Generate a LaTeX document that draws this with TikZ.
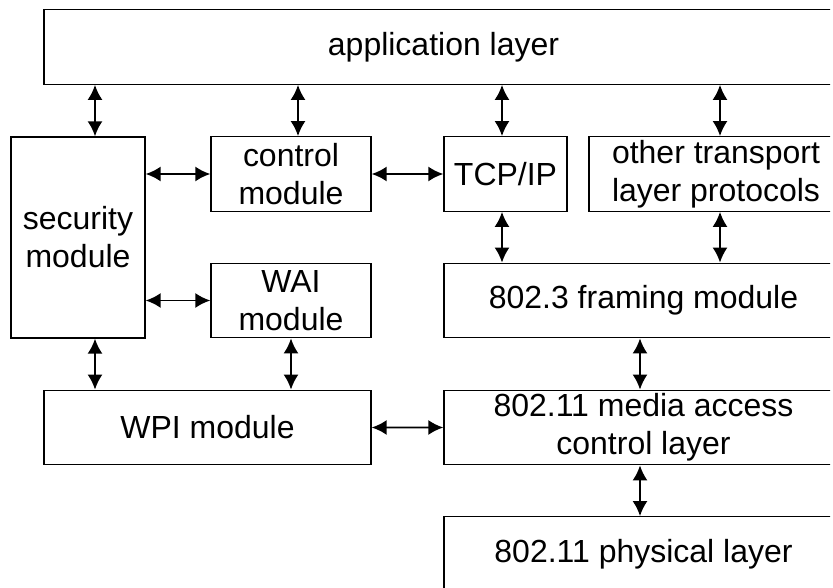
\documentclass[tikz,border=0pt]{standalone}
\usepackage{fontspec}
\setmainfont{Liberation Sans}
\usetikzlibrary{arrows.meta, positioning}

\begin{document}
\begin{tikzpicture}[auto, >={Latex[length=0.3cm,width=0.3cm]}]
% We define the styles for the blocks and the arrows
 \tikzset{
block/.style = {draw, rectangle, line width=0.75pt, inner sep=0pt, align=center, minimum height=1.49cm, font=\fontsize{18.2}{21.6}\selectfont},
line/.style = {draw, <->, line width=1.1pt},
}
 \useasboundingbox (0,0) rectangle (16.66,-11.76);
 \clip (0,0) rectangle (16.6,-11.76);

 % Top layer
 \node [block, minimum width=15.98cm] (app) at (8.87,-0.94) {application layer};

 % Left column
 \node [block, minimum width=2.68cm, minimum height=4.02cm] (sec) at (1.56,-4.75) {security\\module};
 \node [block, minimum width=3.2cm] (ctrl) at (5.82,-3.48) {control\\module};
 \node [block, minimum width=3.2cm, below of=ctrl, node distance=2.53cm] (wai) {WAI\\module};
 \node [block, minimum width=6.54cm] (wpi) at (4.15,-8.55) {WPI module};

 % Right column
 \node [block, minimum width=2.46cm] (tcp) at (10.11,-3.48) {TCP/IP};
 \node [block, minimum width=5.08cm] (other) at (14.32,-3.48) {other transport\\layer protocols};
 \node [block, minimum width=7.98cm] (fram) at (12.87,-6.01) {802.3 framing module};
 \node [block, minimum width=7.98cm, below of=fram, node distance=2.54cm] (mac) {802.11 media access\\control layer};
 \node [block, minimum width=7.98cm, below of=mac, node distance=2.53cm] (phys) {802.11 physical layer};

 % Arrows to the application layer
 \draw [line] ([xshift=0.34cm]sec.north) -- ([xshift=0.34cm]sec.north |- app.south);
 \draw [line] ([xshift=0.14cm]ctrl.north) -- ([xshift=0.14cm]ctrl.north |- app.south);
 \draw [line] ([xshift=-0.07cm]tcp.north) -- ([xshift=-0.07cm]tcp.north |- app.south);
 \draw [line] ([xshift=0.08cm]other.north) -- ([xshift=0.08cm]other.north |- app.south);

 % Horizontal arrows
 \draw [line] (sec.east |- ctrl.west) -- (ctrl.west);
 \draw [line] (ctrl.east) -- (tcp.west);
 \draw [line] (sec.east |- wai.west) -- (wai.west);
 \draw [line] (wpi.east) -- (mac.west);

 % Vertical arrows
 \draw [line] ([xshift=-0.07cm]tcp.south) -- ([xshift=-0.07cm]tcp.south |- fram.north);
 \draw [line] ([xshift=0.08cm]other.south) -- ([xshift=0.08cm]other.south |- fram.north);
 \draw [line] ([xshift=0.34cm]sec.south) -- ([xshift=0.34cm]sec.south |- wpi.north);
 \draw [line] (wai.south) -- (wai.south |- wpi.north);
 \draw [line] ([xshift=-0.07cm]fram.south) -- ([xshift=-0.07cm]mac.north);
 \draw [line] ([xshift=-0.07cm]mac.south) -- ([xshift=-0.07cm]phys.north);

\end{tikzpicture}
\end{document}
